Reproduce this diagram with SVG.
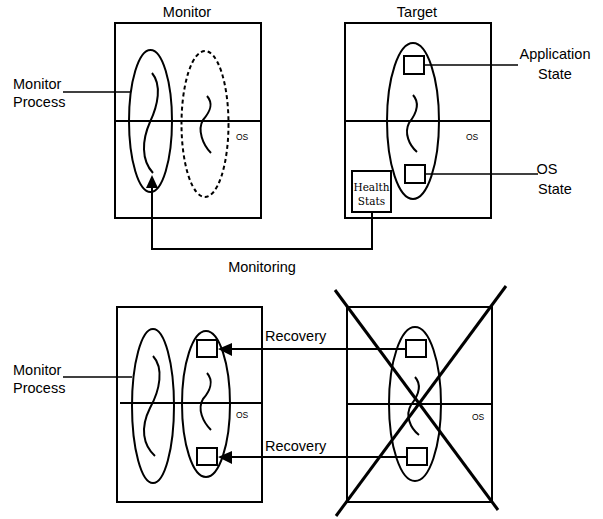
<svg xmlns="http://www.w3.org/2000/svg" width="603" height="519" viewBox="0 0 603 519">
<defs>
<style>
.b{fill:none;stroke:#000;stroke-width:2}
.t{fill:none;stroke:#000;stroke-width:1.5}
.s{fill:none;stroke:#000;stroke-width:2}
.lbl{font-family:"Liberation Sans",Arial,sans-serif;font-size:14.5px;fill:#000}
.os{font-family:"Liberation Sans",Arial,sans-serif;font-size:8.5px;fill:#000}
.hs{font-family:"DejaVu Serif","Liberation Serif",serif;font-size:10.5px;fill:#000}
</style>
</defs>
<rect width="603" height="519" fill="#fff"/>

<g id="monitor-top">
<text class="lbl" x="187" y="17" text-anchor="middle">Monitor</text>
<rect class="b" x="115" y="23" width="146" height="195"/>
<line class="b" x1="115" y1="121" x2="261" y2="121"/>
<ellipse class="b" cx="150.5" cy="121" rx="21.5" ry="71"/>
<path class="s" d="M152 73 C162 85,158 105,150 122 C142 140,141 160,153 173"/>
<ellipse class="b" cx="205" cy="124" rx="23.5" ry="73" stroke-dasharray="4,3"/>
<path class="s" d="M207 96 C214 104,210 112,203 120 C197 130,203 145,211 153"/>
<text class="os" x="236" y="140">OS</text>
</g>

<g id="monitor-process-top">
<text class="lbl" x="13" y="89">Monitor</text>
<text class="lbl" x="13" y="107">Process</text>
<line class="t" x1="63" y1="92" x2="130" y2="92"/>
</g>

<g id="target-top">
<text class="lbl" x="417" y="17" text-anchor="middle">Target</text>
<rect class="b" x="345" y="23" width="146" height="195"/>
<line class="b" x1="345" y1="121" x2="491" y2="121"/>
<ellipse class="b" cx="413" cy="121" rx="26" ry="78"/>
<rect class="b" x="404" y="56" width="20" height="18"/>
<rect class="b" x="405" y="165" width="20" height="18"/>
<path class="s" d="M413 95 C421 104,416 114,409 123 C404 133,409 145,417 152"/>
<text class="os" x="466" y="140">OS</text>
</g>

<g id="health-stats">
<rect class="b" x="352" y="171" width="39" height="41"/>
<text class="hs" x="371.5" y="191" text-anchor="middle">Health</text>
<text class="hs" x="371.5" y="205" text-anchor="middle">Stats</text>
</g>

<g id="application-state">
<text class="lbl" x="555" y="59" text-anchor="middle">Application</text>
<text class="lbl" x="555" y="79" text-anchor="middle">State</text>
</g>

<g id="os-state">
<text class="lbl" x="547" y="174" text-anchor="middle">OS</text>
<text class="lbl" x="555" y="194" text-anchor="middle">State</text>
</g>

<g id="monitor-bottom">
<rect class="b" x="117" y="307" width="145" height="195"/>
<line class="b" x1="120" y1="403" x2="262" y2="403"/>
<ellipse class="b" cx="153" cy="406" rx="21" ry="77"/>
<path class="s" d="M153 356 C164 368,160 390,150 408 C140 428,143 445,155 456"/>
<ellipse class="b" cx="206" cy="404" rx="24" ry="73"/>
<path class="s" d="M207 373 C214 381,210 391,203 399 C197 409,203 422,211 430"/>
<rect class="b" x="197" y="340" width="20" height="17"/>
<rect class="b" x="197" y="448" width="20" height="17"/>
<text class="os" x="236" y="418">OS</text>
</g>

<g id="monitor-process-bottom">
<text class="lbl" x="13" y="375">Monitor</text>
<text class="lbl" x="13" y="393">Process</text>
<line class="t" x1="63" y1="377" x2="132" y2="377"/>
</g>

<g id="target-bottom">
<rect class="b" x="347" y="307" width="145" height="195"/>
<line class="b" x1="347" y1="404" x2="492" y2="404"/>
<ellipse class="b" cx="415" cy="404" rx="26" ry="77"/>
<rect class="b" x="406" y="340" width="20" height="17"/>
<rect class="b" x="407" y="448" width="20" height="17"/>
<path class="s" d="M415 377 C423 386,418 396,411 405 C405 415,410 428,419 435"/>
<text class="os" x="472" y="420">OS</text>
<line x1="335" y1="290" x2="498" y2="510" stroke="#000" stroke-width="3"/>
<line x1="506" y1="286" x2="336" y2="516" stroke="#000" stroke-width="3"/>
</g>

<g id="connectors">
<line class="t" x1="424" y1="65" x2="518" y2="65"/>
<line class="t" x1="425" y1="174" x2="538" y2="174"/>
<polyline class="b" points="372,212 372,249 152,249 152,187"/>
<polygon points="152,175 146,188 158,188" fill="#000"/>
<text class="lbl" x="262" y="272" text-anchor="middle">Monitoring</text>
<line class="b" x1="406" y1="349" x2="230" y2="349"/>
<polygon points="218,349 232,343 232,356" fill="#000"/>
<text class="lbl" x="265" y="341">Recovery</text>
<line class="b" x1="407" y1="457" x2="230" y2="457"/>
<polygon points="218,457 232,451 232,464" fill="#000"/>
<text class="lbl" x="265" y="451">Recovery</text>
</g>
</svg>
